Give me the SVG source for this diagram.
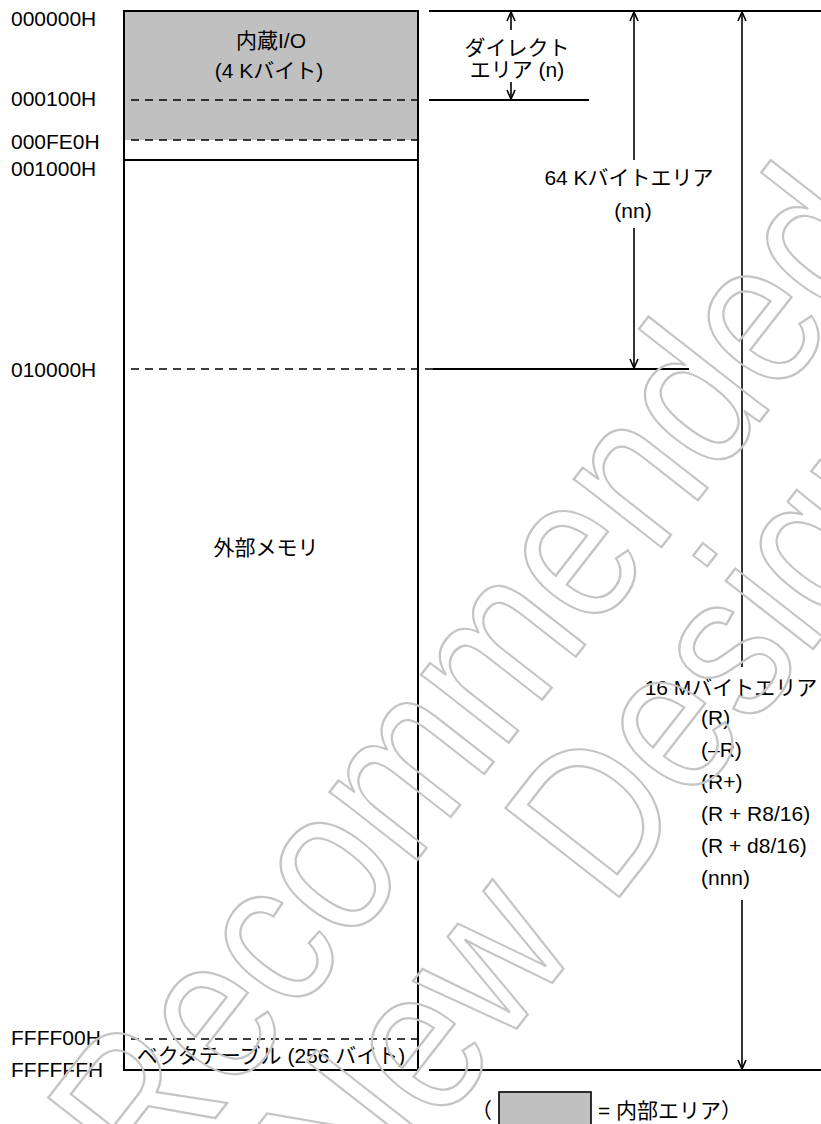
<svg xmlns="http://www.w3.org/2000/svg" width="821" height="1124" viewBox="0 0 821 1124">
<style>
text{font-family:"Liberation Sans","Noto Sans CJK JP",Arial,sans-serif;font-size:21px;fill:#000}
.c{text-anchor:middle}
.ln{stroke:#000;stroke-width:2;fill:none}
.dash{stroke:#000;stroke-width:1.6;stroke-dasharray:8 6;fill:none}
.arr{stroke:#000;stroke-width:1.6;fill:none}
.wm{font-size:210px;fill:none;stroke:#c4c4c4;stroke-width:2.2}
</style>
<defs>
<marker id="ah" markerUnits="userSpaceOnUse" markerWidth="12" markerHeight="12" refX="10" refY="5" orient="auto-start-reverse" viewBox="0 0 12 10">
<path d="M1,1 L10,5 L1,9" fill="none" stroke="#000" stroke-width="1.6"/>
</marker>
</defs>
<rect width="821" height="1124" fill="#fff"/>

<g id="labels">
<text x="11" y="26">000000H</text>
<text x="11" y="106">000100H</text>
<text x="11" y="149">000FE0H</text>
<text x="11" y="176">001000H</text>
<text x="11" y="377">010000H</text>
<text x="11" y="1045">FFFF00H</text>
<text x="11" y="1077">FFFFFFH</text>
</g>

<g id="internal-io">
<rect x="124" y="11" width="294" height="129" fill="#c0c0c0"/>
<text class="c" x="271" y="48">内蔵I/O</text>
<text class="c" x="269" y="78">(4 Kバイト)</text>
</g>
<g id="memory-map">
<rect x="124" y="11" width="294" height="1059" class="ln"/>
<line class="dash" x1="131" y1="100" x2="418" y2="100"/>
<line class="dash" x1="131" y1="140" x2="420" y2="140"/>
<line class="ln" x1="124" y1="160" x2="418" y2="160"/>
<line class="dash" x1="131" y1="369" x2="440" y2="369"/>
<line class="dash" x1="131" y1="1039" x2="418" y2="1039"/>
</g>
<g id="external-memory">
<text class="c" x="266" y="555">外部メモリ</text>
</g>
<g id="vector-table">
<text class="c" x="271" y="1063">ベクタテーブル (256 バイト)</text>
</g>

<g id="connectors">
<line class="ln" x1="429" y1="11" x2="821" y2="11"/>
<line class="ln" x1="429" y1="100" x2="589" y2="100"/>
<line class="ln" x1="433" y1="369" x2="689" y2="369"/>
<line class="ln" x1="429" y1="1070" x2="821" y2="1070"/>
<line class="arr" x1="511" y1="30" x2="511" y2="12" marker-end="url(#ah)"/>
<line class="arr" x1="511" y1="82" x2="511" y2="99" marker-end="url(#ah)"/>
<line class="arr" x1="634" y1="160" x2="634" y2="12" marker-end="url(#ah)"/>
<line class="arr" x1="634" y1="228" x2="634" y2="368" marker-end="url(#ah)"/>
<line class="arr" x1="742" y1="667" x2="742" y2="12" marker-end="url(#ah)"/>
<line class="arr" x1="742" y1="900" x2="742" y2="1069" marker-end="url(#ah)"/>
</g>

<g id="direct-area">
<text class="c" x="517" y="55">ダイレクト</text>
<text class="c" x="517" y="77">エリア (n)</text>
</g>
<g id="area-64k">
<text class="c" x="629" y="185">64 Kバイトエリア</text>
<text class="c" x="633" y="218">(nn)</text>
</g>
<g id="area-16m">
<text class="c" x="731" y="695">16 Mバイトエリア</text>
<text x="701" y="725">(R)</text>
<text x="701" y="757">(–R)</text>
<text x="701" y="789">(R+)</text>
<text x="701" y="821">(R + R8/16)</text>
<text x="701" y="853">(R + d8/16)</text>
<text x="701" y="885">(nnn)</text>
</g>

<g id="legend">
<text x="471" y="1118">（</text>
<rect x="499" y="1092" width="92" height="40" fill="#c0c0c0" stroke="#000" stroke-width="1.6"/>
<text x="598" y="1118">= 内部エリア）</text>
</g>

<g id="watermark">
<text class="wm" transform="translate(153,1198) rotate(-52) scale(0.85,1)" vector-effect="non-scaling-stroke">Recommended</text>
<text class="wm" transform="translate(360,1229) rotate(-52) scale(0.85,1)" vector-effect="non-scaling-stroke">New Design</text>
</g>
</svg>
